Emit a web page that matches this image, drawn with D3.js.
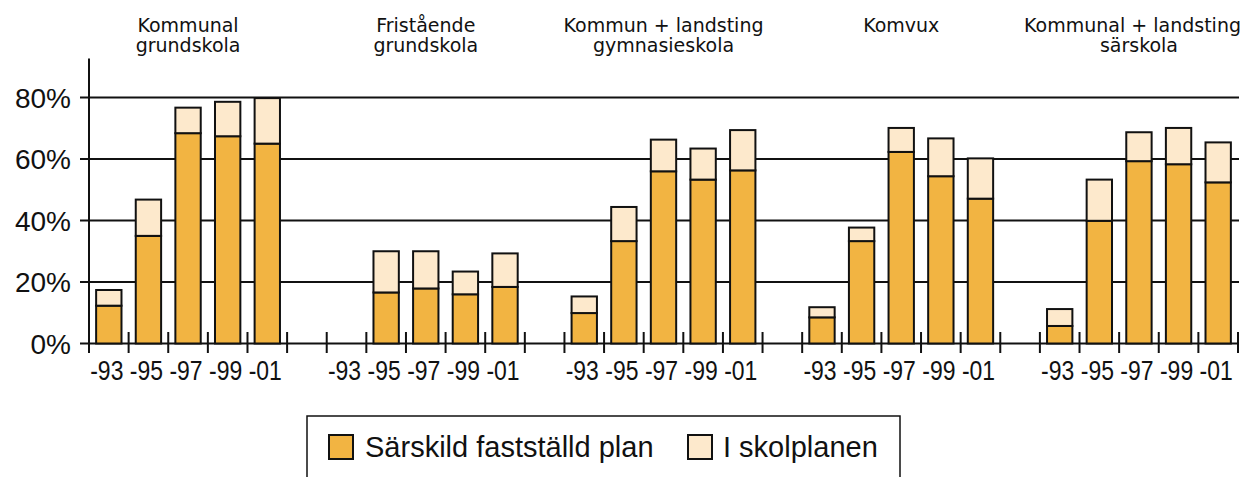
<!DOCTYPE html>
<html lang="sv">
  <head>
    <meta charset="utf-8">
    <title>Andel skolor med plan</title>
    <style>
      body { margin: 0; background: #fff; }
      text { fill: #111; }
      .title { font-family: "DejaVu Sans", sans-serif; font-size: 19px; }
      .ylab { font-family: "Liberation Sans", Arial, sans-serif; font-size: 28px; }
      .xlab { font-family: "Liberation Sans", Arial, sans-serif; font-size: 28px; }
      .legend text { font-family: "Liberation Sans", Arial, sans-serif; font-size: 29px; }
    </style>
  </head>
  <body>
    <div class="chart"></div>

    <script src="https://cdn.jsdelivr.net/npm/d3@7"></script>
    <script type="text/javascript">
      // skolformer (two-line titles)
      var groups = [
        ["Kommunal", "grundskola"],
        ["Fristående", "grundskola"],
        ["Kommun + landsting", "gymnasieskola"],
        ["Komvux", ""],
        ["Kommunal + landsting", "särskola"]
      ];
      var years = ["-93", "-95", "-97", "-99", "-01"];

      // percent, one row per skolform, null = no value
      var sarskildPlan = [
        [12.3, 35.0, 68.4, 67.4, 65.0],
        [null, 16.6, 17.9, 16.0, 18.4],
        [9.9, 33.3, 56.0, 53.3, 56.3],
        [8.5, 33.3, 62.3, 54.4, 47.1],
        [5.7, 39.9, 59.3, 58.3, 52.4]
      ];
      var iSkolplanen = [
        [5.1, 11.8, 8.3, 11.2, 14.8],
        [null, 13.4, 12.1, 7.4, 10.9],
        [5.4, 11.1, 10.3, 10.1, 13.1],
        [3.3, 4.4, 7.8, 12.3, 13.1],
        [5.5, 13.4, 9.4, 11.8, 13.0]
      ];
      var yTicks = [0, 20, 40, 60, 80];
      var seriesNames = ["Särskild fastställd plan", "I skolplanen"];
      var colors = ["#f2b442", "#fde9cc"];

      var width = 1244, height = 477;

      var svg = d3.select(".chart")
        .append("svg")
          .attr("width", width)
          .attr("height", height);

      // one slot per year, plus an empty slot between skolformer
      var slots = [];
      groups.forEach(function(g, gi) {
        years.forEach(function(y) { slots.push(gi + "|" + y); });
        if (gi < groups.length - 1) slots.push("gap" + gi);
      });

      var x = d3.scaleBand()
          .domain(slots)
          .range([89, 1238])
          .paddingInner(0.36)
          .paddingOuter(0.18);

      var y = d3.scaleLinear()
          .domain([0, 80])
          .range([343.5, 97.5]);

      var step = x.step();
      var x0 = x.range()[0];

      // horizontal grid lines
      svg.append("g")
          .selectAll("line")
          .data(yTicks)
          .enter().append("line")
          .attr("x1", 80)
          .attr("x2", 1239)
          .attr("y1", function(d) { return y(d); })
          .attr("y2", function(d) { return y(d); })
          .attr("stroke", "#111")
          .attr("stroke-width", 2);

      // y axis line
      svg.append("line")
          .attr("x1", x0).attr("x2", x0)
          .attr("y1", y(92.7)).attr("y2", y(0) + 9.5)
          .attr("stroke", "#111")
          .attr("stroke-width", 2);

      // x ticks at slot boundaries
      svg.append("g")
          .selectAll("line")
          .data(d3.range(1, slots.length + 1))
          .enter().append("line")
          .attr("x1", function(i) { return x0 + i * step; })
          .attr("x2", function(i) { return x0 + i * step; })
          .attr("y1", y(0) - 11.5)
          .attr("y2", y(0) + 9.5)
          .attr("stroke", "#111")
          .attr("stroke-width", 2);

      svg.append("g")
          .selectAll("text")
          .data(yTicks)
          .enter().append("text")
          .attr("class", "ylab")
          .attr("x", 71)
          .attr("y", function(d) { return y(d) + 10; })
          .attr("text-anchor", "end")
          .text(function(d) { return d + "%"; });

      // stacked bars
      var bars = [];
      groups.forEach(function(g, gi) {
        years.forEach(function(yr, yi) {
          var a = sarskildPlan[gi][yi], b = iSkolplanen[gi][yi];
          if (a == null) return;
          bars.push({ key: gi + "|" + yr, lo: 0, hi: a, s: 0 });
          bars.push({ key: gi + "|" + yr, lo: a, hi: a + b, s: 1 });
        });
      });

      svg.append("g")
          .selectAll("rect")
          .data(bars)
          .enter().append("rect")
          .attr("x", function(d) { return x(d.key); })
          .attr("width", x.bandwidth())
          .attr("y", function(d) { return y(d.hi); })
          .attr("height", function(d) { return y(d.lo) - y(d.hi); })
          .attr("fill", function(d) { return colors[d.s]; })
          .attr("stroke", "#111")
          .attr("stroke-width", 2);

      // year labels, squeezed to look condensed
      svg.append("g")
          .selectAll("text")
          .data(slots.filter(function(s) { return s.indexOf("gap") < 0; }))
          .enter().append("text")
          .attr("class", "xlab")
          .attr("text-anchor", "middle")
          .attr("transform", function(d) {
            return "translate(" + (x(d) + x.bandwidth() / 2 - 2) + ",380) scale(0.82,1)";
          })
          .text(function(d) { return d.split("|")[1]; });

      // skolform titles
      var titles = svg.append("g")
          .selectAll("text")
          .data(groups)
          .enter().append("text")
          .attr("class", "title")
          .attr("text-anchor", "middle")
          .attr("transform", function(d, i) {
            return "translate(" + (x(i + "|-97") + x.bandwidth() / 2) + ",0)";
          });
      titles.append("tspan").attr("x", 0).attr("y", 31.5).text(function(d) { return d[0]; });
      titles.append("tspan").attr("x", 0).attr("y", 51.5).text(function(d) { return d[1]; });

      // keep long title lines inside the picture
      titles.each(function(d, i) {
        var cx = x(i + "|-97") + x.bandwidth() / 2;
        d3.select(this).selectAll("tspan").each(function() {
          var w = this.getComputedTextLength();
          var over = cx + w / 2 - (width - 3);
          if (over > 0) d3.select(this).attr("x", -over);
        });
      });

      // legend
      var legend = svg.append("g").attr("class", "legend");
      legend.append("rect")
          .attr("x", 307).attr("y", 416)
          .attr("width", 593).attr("height", 80)
          .attr("fill", "none")
          .attr("stroke", "#111")
          .attr("stroke-width", 1.5);

      var item = legend.selectAll("g.item")
          .data(seriesNames)
          .enter().append("g")
          .attr("class", "item")
          .attr("transform", function(d, i) { return "translate(" + [329, 688][i] + ",435)"; });
      item.append("rect")
          .attr("width", 24).attr("height", 24)
          .attr("fill", function(d, i) { return colors[i]; })
          .attr("stroke", "#111")
          .attr("stroke-width", 2);
      item.append("text")
          .attr("x", function(d, i) { return [36, 35][i]; })
          .attr("y", 22)
          .text(function(d) { return d; });
    </script>
  </body>
</html>
